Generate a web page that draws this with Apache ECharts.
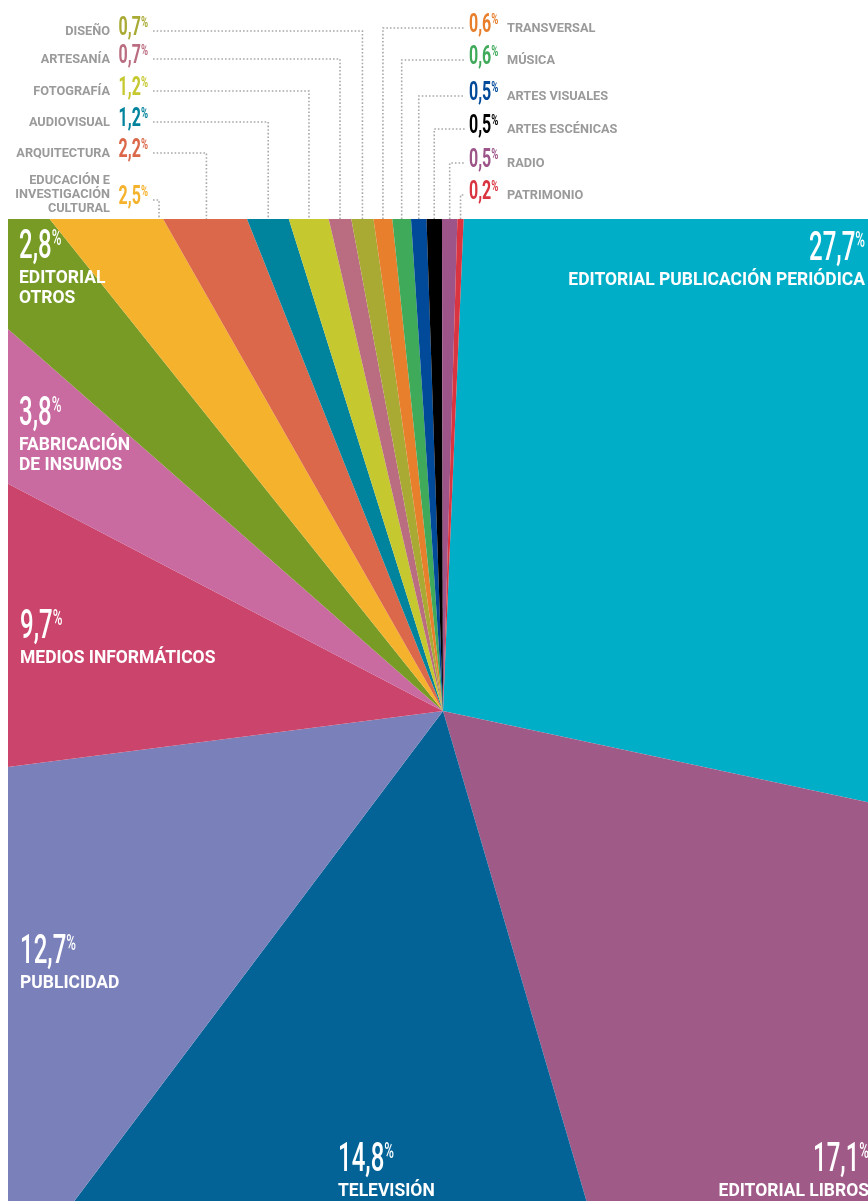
<!DOCTYPE html>
<html>
<head>
<meta charset="utf-8">
<script src="https://cdn.jsdelivr.net/npm/echarts@6/dist/echarts.min.js"></script>
<style>
  html, body { margin: 0; padding: 0; background: #ffffff; }
  #chart { width: 868px; height: 1201px; }
</style>
</head>
<body>
<div id="chart"></div>
<script>
// Share of each cultural sector (%), clockwise from 12 o'clock
const categories = [
  'EDITORIAL PUBLICACIÓN PERIÓDICA', 'EDITORIAL LIBROS', 'TELEVISIÓN', 'PUBLICIDAD',
  'MEDIOS INFORMÁTICOS', 'FABRICACIÓN\nDE INSUMOS', 'EDITORIAL\nOTROS',
  'EDUCACIÓN E\nINVESTIGACIÓN\nCULTURAL', 'ARQUITECTURA', 'AUDIOVISUAL', 'FOTOGRAFÍA',
  'ARTESANÍA', 'DISEÑO', 'TRANSVERSAL', 'MÚSICA', 'ARTES VISUALES', 'ARTES ESCÉNICAS',
  'RADIO', 'PATRIMONIO'
];
const shares = [27.7, 17.1, 14.8, 12.7, 9.7, 3.8, 2.8, 2.5, 2.2, 1.2, 1.2, 0.7, 0.7, 0.6, 0.6, 0.5, 0.5, 0.5, 0.2];
const sliceColors = [
  '#00AEC8', '#A05A87', '#036397', '#7A80B9', '#CB446C', '#C96AA1', '#779B24',
  '#F5B22D', '#DB684A', '#00839C', '#C5C82F', '#BA6D80', '#A9AA34', '#E77F2D',
  '#40AA5B', '#004A99', '#000000', '#9C5489', '#D9343F'
];

// Geometry of the pie and the window it is shown through
const CX = 443, CY = 711, RADIUS = 700;
const PIE_TOP = 219, PIE_LEFT = 8, W = 868, H = 1201;
const START_ANGLE = 87.6;

// Labels drawn inside the large slices
const insideLabels = [
  { i: 0, x: 865, y: 262, align: 'right' },
  { i: 1, x: 869, y: 1173, align: 'right' },
  { i: 2, x: 338, y: 1173, align: 'left' },
  { i: 3, x: 20, y: 965, align: 'left' },
  { i: 4, x: 20, y: 640, align: 'left' },
  { i: 5, x: 19, y: 427, align: 'left' },
  { i: 6, x: 19, y: 260, align: 'left' }
];
// Callout labels above the pie (baseline of each row)
const calloutLabels = [
  { i: 12, side: 'left', y: 36 }, { i: 11, side: 'left', y: 64 },
  { i: 10, side: 'left', y: 96 }, { i: 9, side: 'left', y: 127 },
  { i: 8, side: 'left', y: 158 }, { i: 7, side: 'left', y: 205 },
  { i: 13, side: 'right', y: 33 }, { i: 14, side: 'right', y: 65 },
  { i: 15, side: 'right', y: 101 }, { i: 16, side: 'right', y: 134 },
  { i: 17, side: 'right', y: 168 }, { i: 18, side: 'right', y: 200 }
];

const total = shares.reduce((a, b) => a + b, 0);
const fmt = v => v.toFixed(1).replace('.', ',');
const MID = 0.30; // baseline offset below the middle line, in em

// clockwise angular span of slice i, degrees from 12 o'clock
function sliceSpan(i) {
  let before = 0;
  for (let k = 0; k < i; k++) before += shares[k];
  const a0 = (90 - START_ANGLE) + 360 * before / total;
  return [a0, a0 + 360 * shares[i] / total];
}
function xAtTop(deg) {
  return CX + (CY - PIE_TOP) * Math.tan(deg * Math.PI / 180);
}

function numberText(x, baseline, align, value, size, pctSize, color, scale, weight) {
  const top = baseline - size / 2 - MID * size;
  return {
    type: 'text', x: x, y: top, scaleX: scale, z: 120, silent: true,
    style: {
      text: '{n|' + fmt(value) + '}{p|%}',
      align: align, textAlign: align, verticalAlign: 'top', textVerticalAlign: 'top',
      rich: {
        n: { fontSize: size, fontFamily: 'Roboto', fontWeight: weight, lineHeight: size, fill: color },
        p: { fontSize: pctSize, fontFamily: 'Roboto', fontWeight: weight, lineHeight: pctSize, verticalAlign: 'top', fill: color }
      }
    }
  };
}
function nameText(x, baseline, align, text, size, lh, color, scale) {
  const top = baseline - lh / 2 - MID * size;
  return {
    type: 'text', x: x, y: top, scaleX: scale, z: 120, silent: true,
    style: {
      text: text, fill: color,
      font: 'bold ' + size + 'px Roboto', lineHeight: lh,
      align: align, textAlign: align, verticalAlign: 'top', textVerticalAlign: 'top'
    }
  };
}

const graphics = [
  // white frame around the visible part of the pie
  { type: 'rect', z: 100, silent: true, shape: { x: 0, y: 0, width: W, height: PIE_TOP }, style: { fill: '#ffffff' } },
  { type: 'rect', z: 100, silent: true, shape: { x: 0, y: 0, width: PIE_LEFT, height: H }, style: { fill: '#ffffff' } }
];

insideLabels.forEach(l => {
  graphics.push(numberText(l.x, l.y, l.align, shares[l.i], 40, 22, '#ffffff', 0.6, 500));
  graphics.push(nameText(l.x, l.y + 24, l.align, categories[l.i], 19, 20, '#ffffff', 0.92));
});

const GREY = '#9a9a9a';
calloutLabels.forEach(l => {
  const [a0, a1] = sliceSpan(l.i);
  let xm = xAtTop((a0 + a1) / 2);
  const ly = l.y - 5;
  let pts;
  if (l.side === 'left') {
    const x0 = 153;
    if (xm < x0 + 6) xm = xAtTop(a1) - 4;
    pts = [[x0, ly], [xm, ly], [xm, PIE_TOP]];
    graphics.push(numberText(148, l.y, 'right', shares[l.i], 25, 15, sliceColors[l.i], 0.64, 'bold'));
    const lines = categories[l.i].split('\n').length;
    graphics.push(nameText(110, l.y - (lines > 1 ? 20 : 0), 'right', categories[l.i], 13, 14, GREY, 0.98));
  } else {
    const x1 = 465;
    pts = [[xm, PIE_TOP], [xm, ly], [x1, ly]];
    graphics.push(numberText(469, l.y, 'left', shares[l.i], 25, 15, sliceColors[l.i], 0.64, 'bold'));
    graphics.push(nameText(507, l.y, 'left', categories[l.i], 13, 14, GREY, 0.98));
  }
  graphics.push({
    type: 'polyline', z: 110, silent: true,
    shape: { points: pts },
    style: { stroke: '#a8a8a8', lineWidth: 1.6, lineDash: [1.6, 2], fill: null }
  });
});

const chart = echarts.init(document.getElementById('chart'), null, { renderer: 'canvas' });
chart.setOption({
  animation: false,
  backgroundColor: '#ffffff',
  series: [{
    type: 'pie',
    z: 1,
    silent: true,
    center: [CX, CY],
    radius: RADIUS,
    startAngle: START_ANGLE,
    clockwise: true,
    label: { show: false },
    labelLine: { show: false },
    itemStyle: { borderWidth: 0 },
    emphasis: { disabled: true },
    data: categories.map((c, i) => ({ name: c, value: shares[i], itemStyle: { color: sliceColors[i] } }))
  }],
  graphic: { elements: graphics }
});
</script>
</body>
</html>
